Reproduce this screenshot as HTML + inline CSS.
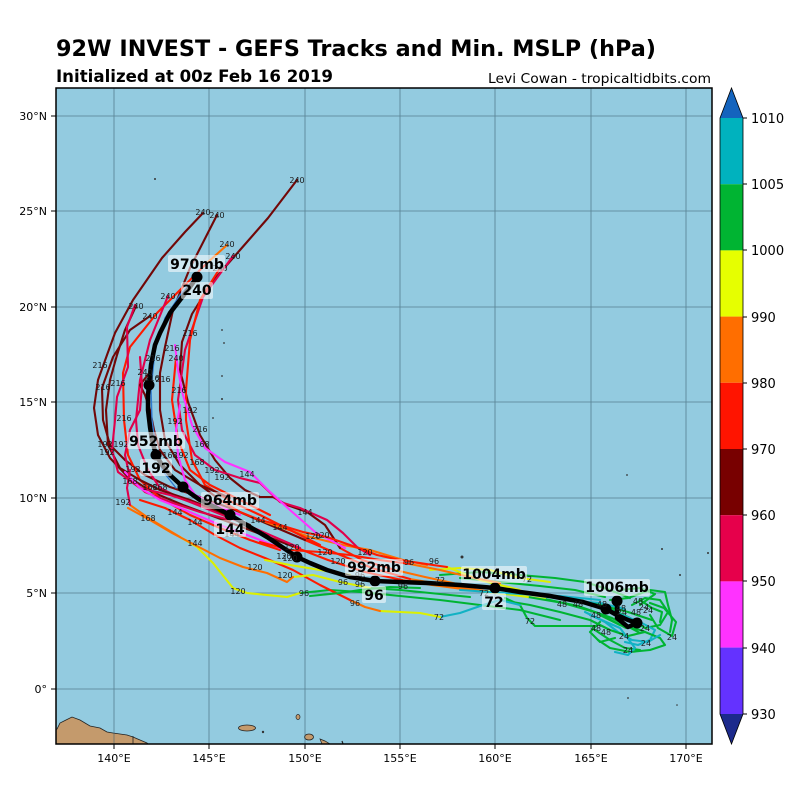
<!DOCTYPE html>
<html>
<head>
<meta charset="utf-8">
<style>
html,body{margin:0;padding:0;background:#fff;}
svg{display:block;}
text{font-family:"DejaVu Sans","Liberation Sans",sans-serif;}
.t{fill:none;stroke-width:2.1;stroke-linejoin:round;stroke-linecap:round;}
.G{stroke:#00b432;} .C{stroke:#12b2c4;} .Y{stroke:#dcf000;} .O{stroke:#ff6e00;}
.R{stroke:#ff1a00;} .D{stroke:#720808;} .K{stroke:#e0004b;} .M{stroke:#ff32ff;} .B{stroke:#2f7ad0;}
.h{font-size:8px;fill:#1a1a1a;}
.lb{fill:rgba(255,255,255,0.55);}
.lt{font-size:14px;font-weight:bold;fill:#000;text-anchor:middle;}
.ax{font-size:11px;fill:#000;}
.cb{font-size:13px;fill:#000;}
</style>
</head>
<body>
<svg width="800" height="800" viewBox="0 0 800 800" xmlns="http://www.w3.org/2000/svg">
<defs>
<clipPath id="mc"><rect x="56" y="88" width="656" height="656"/></clipPath>
</defs>

<text x="56" y="56" font-size="22" font-weight="bold" textLength="600" lengthAdjust="spacingAndGlyphs">92W INVEST - GEFS Tracks and Min. MSLP (hPa)</text>
<text x="56" y="82" font-size="17" font-weight="bold" textLength="277" lengthAdjust="spacingAndGlyphs">Initialized at 00z Feb 16 2019</text>
<text x="488" y="83" font-size="13.5" textLength="223" lengthAdjust="spacingAndGlyphs">Levi Cowan - tropicaltidbits.com</text>

<rect x="56" y="88" width="656" height="656" fill="#93cbe0"/>
<g clip-path="url(#mc)">
  <polygon points="54,744 54,730 57,729 60,723 66,720 72,717 80,720 90,726 100,728 107,732 113,733 120,734 127,735 133,737 140,740 147,743 150,746" fill="#c49a6c" stroke="#222" stroke-width="0.8"/>
  <line x1="133" y1="736" x2="133" y2="744" stroke="#222" stroke-width="0.8"/>
  <ellipse cx="247" cy="728" rx="8.5" ry="3" fill="#c49a6c" stroke="#222" stroke-width="0.8"/>
  <circle cx="263" cy="732" r="1.2" fill="#333"/>
  <ellipse cx="298" cy="717" rx="2" ry="2.5" fill="#c49a6c" stroke="#222" stroke-width="0.7"/>
  <ellipse cx="309" cy="737" rx="4.5" ry="3" fill="#c49a6c" stroke="#222" stroke-width="0.8"/>
  <polygon points="320,739 325,741 330,744 322,744" fill="#c49a6c" stroke="#222" stroke-width="0.7"/>
  <line x1="342" y1="741" x2="343" y2="744" stroke="#222" stroke-width="1.2"/>
  <g fill="#333">
    <circle cx="155" cy="179" r="1"/><circle cx="222" cy="330" r="0.9"/><circle cx="224" cy="343" r="0.9"/>
    <circle cx="222" cy="376" r="0.9"/><circle cx="222" cy="399" r="1"/><circle cx="213" cy="418" r="0.9"/>
    <circle cx="627" cy="475" r="0.9"/><circle cx="462" cy="557" r="1.5"/><circle cx="680" cy="575" r="1"/>
    <circle cx="662" cy="549" r="1"/><circle cx="708" cy="553" r="1"/><circle cx="628" cy="698" r="0.9"/><circle cx="677" cy="705" r="0.8"/>
  </g>
  <g stroke="#3d5f70" stroke-width="0.8" opacity="0.7">
    <line x1="114" y1="88" x2="114" y2="744"/><line x1="209" y1="88" x2="209" y2="744"/>
    <line x1="305" y1="88" x2="305" y2="744"/><line x1="400" y1="88" x2="400" y2="744"/>
    <line x1="495" y1="88" x2="495" y2="744"/><line x1="591" y1="88" x2="591" y2="744"/>
    <line x1="686" y1="88" x2="686" y2="744"/>
    <line x1="56" y1="116" x2="712" y2="116"/><line x1="56" y1="211" x2="712" y2="211"/>
    <line x1="56" y1="307" x2="712" y2="307"/><line x1="56" y1="402" x2="712" y2="402"/>
    <line x1="56" y1="498" x2="712" y2="498"/><line x1="56" y1="593" x2="712" y2="593"/>
    <line x1="56" y1="689" x2="712" y2="689"/>
  </g>

  <polyline class="t G" points="560,598 590,603 612,610 630,618 645,628 660,625 668,612 660,600 645,598 632,605"/>
  <polyline class="t C" points="570,600 600,606 622,615 640,622 655,630 650,640 638,645 625,642"/>
  <polyline class="t G" points="600,615 620,625 640,630 660,638 665,645 650,650 630,652 610,648 598,640"/>
  <polyline class="t G" points="610,600 628,598 650,590 665,592 668,605 672,620 670,632"/>
  <polyline class="t C" points="585,612 605,622 618,632 632,640 648,642 660,635"/>
  <polyline class="t G" points="595,630 610,640 625,648 640,650"/>
  <polyline class="t G" points="640,600 652,608 662,612 660,622"/>
  <polyline class="t G" points="620,590 640,588 655,594 640,605"/>
  <polyline class="t C" points="545,596 575,601 600,603 625,609"/>
  <polyline class="t G" points="600,622 590,632 600,642 615,638"/>
  <polyline class="t G" points="500,600 530,605 560,612 590,620 610,630 628,636 645,632"/>
  <polyline class="t G" points="597,626 560,626 535,626 527,618 520,605 505,598"/>
  <polyline class="t C" points="590,615 620,628 635,648 628,655 615,652"/>
  <polyline class="t G" points="650,615 658,628 672,636 676,622 664,608 650,603"/>
  <polyline class="t G" points="440,575 480,572 520,575 555,578 585,582 610,590 630,598"/>
  <polyline class="t Y" points="430,570 460,568 490,570 520,578 550,582"/>
  <polyline class="t G" points="460,578 500,582 540,586 575,590 605,597"/>

  <polyline class="t G" points="652,620 628,612 600,605 568,599 538,595"/>
  <polyline class="t Y" points="538,595 500,590 462,585"/>
  <polyline class="t O" points="462,585 425,577 395,570"/>
  <polyline class="t R" points="395,570 362,560 340,548"/>
  <polyline class="t D" points="340,548 325,525 307,512 287,505 273,497 260,497 245,490 230,478 215,460 200,435 188,402 180,370 182,342 192,314 212,282 240,250 268,218 297,180"/>
  <polyline class="t G" points="640,633 612,618 578,606 545,599"/>
  <polyline class="t Y" points="545,599 505,594 470,590"/>
  <polyline class="t O" points="470,590 432,585 402,580"/>
  <polyline class="t R" points="402,580 365,572 328,560 292,546"/>
  <polyline class="t D" points="292,546 255,532 218,518 183,505 152,492 127,476 110,458 98,435 94,408 98,380 107,355 115,333 133,300 162,258 185,232 203,213"/>
  <polyline class="t G" points="626,628 598,613 563,603 528,597"/>
  <polyline class="t Y" points="528,597 485,591"/>
  <polyline class="t O" points="485,591 445,585 410,579"/>
  <polyline class="t R" points="410,579 372,568 338,554 305,540"/>
  <polyline class="t D" points="305,540 270,525 235,510 200,497 170,487 145,475 125,460 110,445 103,420 102,388 113,357 130,330 150,316"/>
  <polyline class="t O" points="427,565 403,560 370,550 343,545 310,537 280,527 260,520"/>
  <polyline class="t R" points="260,520 240,512 220,500"/>
  <polyline class="t D" points="220,500 200,485 180,465 165,440 160,410 160,373 165,347 173,310 190,268 217,215"/>
  <polyline class="t R" points="280,550 250,540 220,528 190,515 160,498 140,480 128,455 124,420 123,373 130,347 157,313 180,290 207,263"/>
  <polyline class="t O" points="207,263 227,245"/>
  <polyline class="t K" points="370,555 357,547 343,533 327,520 300,508 280,502 260,483 240,478 215,470 195,455 182,430 178,400 185,350 203,297 233,256"/>
  <polyline class="t R" points="320,545 290,530 260,515 232,502 205,485 192,460 186,420 186,390 190,340 200,300 220,268"/>
  <polyline class="t K" points="300,548 270,535 240,522 210,510 180,498 160,488 148,470 138,445 136,420 140,380 150,340 168,296"/>
  <polyline class="t D" points="250,525 220,512 190,500 160,490 140,480 120,468 108,445 106,410 110,380 117,355 125,330 136,306"/>
  <polyline class="t D" points="230,498 200,485 175,470 160,450 154,430 150,410 145,395 140,385 150,372"/>
  <polyline class="t R" points="270,515 240,500 210,485 190,470 178,440 172,400 176,358"/>
  <polyline class="t K" points="200,505 170,495 140,488 118,472 112,450 115,420 117,397 128,367 127,327 135,305"/>
  <polyline class="t K" points="230,520 200,512 170,502 145,492 130,478 125,455 130,430 140,410 142,385 140,357"/>
  <polyline class="t M" points="345,548 315,532 290,510 268,490 250,472 225,462 205,448 192,425 183,395 178,370 175,345"/>
  <polyline class="t M" points="290,552 255,538 220,525 185,510 160,500 140,488 125,472"/>
  <polyline class="t M" points="240,515 215,505 195,495 185,480 178,455 176,430 180,405"/>
  <polyline class="t B" points="176,488 162,470 156,450 152,420 151,390 155,350 165,318 180,295 195,278" style="stroke-width:1.4"/>
  <polyline class="t G" points="560,620 520,610 480,605 440,600 400,596 360,592 330,590 300,593"/>
  <polyline class="t Y" points="300,593 287,597 247,593 233,588 213,563 197,547 180,537"/>
  <polyline class="t O" points="180,537 160,525 147,517 130,505"/>
  <polyline class="t K" points="130,505 127,488 130,470"/>
  <polyline class="t C" points="520,605 500,600 483,605 460,613 440,617"/>
  <polyline class="t Y" points="440,617 420,613 400,612 380,611"/>
  <polyline class="t O" points="380,611 365,607 350,600"/>
  <polyline class="t R" points="350,600 320,585 293,570 265,558 240,548 215,535 190,520 165,508 140,500"/>
  <polyline class="t G" points="470,597 430,593 400,590 370,588"/>
  <polyline class="t Y" points="370,588 340,582 313,575 293,577"/>
  <polyline class="t O" points="293,577 287,582 267,573 243,567 220,558 195,545 172,533 150,520 128,508"/>
  <polyline class="t Y" points="520,590 480,580 447,567"/>
  <polyline class="t R" points="447,567 433,565 400,560 377,555 350,545 327,537 303,532 280,525 260,520"/>
  <polyline class="t O" points="500,583 470,577 440,570 410,564"/>
  <polyline class="t R" points="410,564 380,560 350,555 320,552 290,550 260,542"/>
  <polyline class="t Y" points="350,575 320,570 290,565 265,560"/>
  <polyline class="t G" points="420,588 390,587 360,590 340,593 310,596"/>
  <polyline class="t C" points="600,600 560,596 520,594 490,592 460,590"/>

  <polyline points="617,601 617,618 628,627 637,623 628,620 615,614 606,609 583,602 550,596 520,592 495,588 460,585 427,583 400,582 375,581 350,577 327,570 310,563 297,557 282,547 267,537 250,527 230,515 215,507 200,500 190,493 183,487 170,475 162,465 156,455 152,440 150,427 148,410 148,395 149,385 151,365 155,345 160,333 170,313 180,300 190,287 197,277" fill="none" stroke="#000" stroke-width="4.5" stroke-linejoin="round" stroke-linecap="round"/>
  <g fill="#000">
    <circle cx="617" cy="601" r="5.5"/><circle cx="637" cy="623" r="5.5"/><circle cx="606" cy="609" r="5.5"/>
    <circle cx="495" cy="588" r="5.5"/><circle cx="375" cy="581" r="5.5"/><circle cx="297" cy="557" r="5.5"/>
    <circle cx="230" cy="515" r="5.5"/><circle cx="183" cy="487" r="5.5"/><circle cx="156" cy="455" r="5.5"/>
    <circle cx="149" cy="385" r="5.5"/><circle cx="197" cy="277" r="5.5"/>
  </g>

  <g class="h" text-anchor="middle">
    <text x="297" y="183">240</text><text x="203" y="215">240</text><text x="217" y="218">240</text>
    <text x="227" y="247">240</text><text x="233" y="259">240</text><text x="220" y="271">240</text>
    <text x="168" y="299">240</text><text x="136" y="309">240</text><text x="150" y="319">240</text>
    <text x="145" y="375">240</text><text x="176" y="361">240</text>
    <text x="100" y="368">216</text><text x="103" y="390">216</text><text x="118" y="386">216</text>
    <text x="124" y="421">216</text><text x="190" y="336">216</text><text x="153" y="361">216</text>
    <text x="152" y="381">216</text><text x="163" y="382">216</text><text x="179" y="393">216</text>
    <text x="200" y="432">216</text><text x="172" y="351">216</text>
    <text x="105" y="447">192</text><text x="107" y="455">192</text><text x="121" y="447">192</text>
    <text x="133" y="472">192</text><text x="123" y="505">192</text><text x="190" y="413">192</text>
    <text x="181" y="458">192</text><text x="212" y="473">192</text><text x="222" y="480">192</text>
    <text x="175" y="424">192</text>
    <text x="130" y="484">168</text><text x="150" y="490">168</text><text x="160" y="490">168</text>
    <text x="202" y="447">168</text><text x="197" y="465">168</text><text x="148" y="521">168</text>
    <text x="170" y="458">168</text>
    <text x="247" y="477">144</text><text x="305" y="515">144</text><text x="175" y="515">144</text>
    <text x="195" y="525">144</text><text x="195" y="546">144</text><text x="280" y="530">144</text>
    <text x="258" y="523">144</text><text x="232" y="537">144</text>
    <text x="238" y="594">120</text><text x="322" y="538">120</text><text x="313" y="539">120</text>
    <text x="325" y="555">120</text><text x="292" y="550">120</text><text x="285" y="578">120</text>
    <text x="290" y="561">120</text><text x="338" y="564">120</text><text x="255" y="570">120</text>
    <text x="365" y="555">120</text><text x="284" y="559">120</text>
    <text x="304" y="596">96</text><text x="355" y="606">96</text><text x="343" y="585">96</text>
    <text x="360" y="587">96</text><text x="409" y="565">96</text><text x="434" y="564">96</text>
    <text x="403" y="589">96</text><text x="360" y="578">96</text>
    <text x="439" y="620">72</text><text x="440" y="583">72</text><text x="530" y="624">72</text>
    <text x="484" y="596">72</text><text x="527" y="582">72</text>
    <text x="562" y="607">48</text><text x="578" y="607">48</text><text x="602" y="607">48</text>
    <text x="596" y="618">48</text><text x="596" y="631">48</text><text x="606" y="635">48</text>
    <text x="638" y="604">48</text><text x="636" y="615">48</text><text x="621" y="611">48</text>
    <text x="624" y="639">24</text><text x="645" y="631">24</text><text x="644" y="610">24</text>
    <text x="648" y="613">24</text><text x="672" y="640">24</text><text x="646" y="646">24</text>
    <text x="628" y="653">24</text><text x="622" y="615">24</text>
  </g>

  <rect class="lb" x="168" y="255" width="57" height="17" rx="2"/>
  <text class="lt" x="197" y="269">970mb</text>
  <rect class="lb" x="181" y="282" width="32" height="17" rx="2"/>
  <text class="lt" x="197" y="295">240</text>
  <rect class="lb" x="127" y="432" width="58" height="17" rx="2"/>
  <text class="lt" x="156" y="446">952mb</text>
  <rect class="lb" x="140" y="459" width="32" height="17" rx="2"/>
  <text class="lt" x="156" y="473">192</text>
  <rect class="lb" x="201" y="492" width="58" height="17" rx="2"/>
  <text class="lt" x="230" y="505">964mb</text>
  <rect class="lb" x="214" y="520" width="32" height="17" rx="2"/>
  <text class="lt" x="230" y="534">144</text>
  <rect class="lb" x="345" y="559" width="58" height="17" rx="2"/>
  <text class="lt" x="374" y="572">992mb</text>
  <rect class="lb" x="362" y="586" width="24" height="17" rx="2"/>
  <text class="lt" x="374" y="600">96</text>
  <rect class="lb" x="461" y="566" width="66" height="17" rx="2"/>
  <text class="lt" x="494" y="579">1004mb</text>
  <rect class="lb" x="482" y="593" width="24" height="17" rx="2"/>
  <text class="lt" x="494" y="607">72</text>
  <rect class="lb" x="584" y="579" width="66" height="17" rx="2"/>
  <text class="lt" x="617" y="592">1006mb</text>
</g>
<rect x="56" y="88" width="656" height="656" fill="none" stroke="#000" stroke-width="1.5"/>

<g stroke="#000" stroke-width="1">
  <line x1="51" y1="116" x2="56" y2="116"/><line x1="51" y1="211" x2="56" y2="211"/>
  <line x1="51" y1="307" x2="56" y2="307"/><line x1="51" y1="402" x2="56" y2="402"/>
  <line x1="51" y1="498" x2="56" y2="498"/><line x1="51" y1="593" x2="56" y2="593"/>
  <line x1="51" y1="689" x2="56" y2="689"/>
  <line x1="114" y1="744" x2="114" y2="749"/><line x1="209" y1="744" x2="209" y2="749"/>
  <line x1="305" y1="744" x2="305" y2="749"/><line x1="400" y1="744" x2="400" y2="749"/>
  <line x1="495" y1="744" x2="495" y2="749"/><line x1="591" y1="744" x2="591" y2="749"/>
  <line x1="686" y1="744" x2="686" y2="749"/>
</g>
<g class="ax" text-anchor="end">
  <text x="47" y="120">30°N</text><text x="47" y="215">25°N</text><text x="47" y="311">20°N</text>
  <text x="47" y="406">15°N</text><text x="47" y="502">10°N</text><text x="47" y="597">5°N</text>
  <text x="47" y="693">0°</text>
</g>
<g class="ax" text-anchor="middle">
  <text x="114" y="762">140°E</text><text x="209" y="762">145°E</text><text x="305" y="762">150°E</text>
  <text x="400" y="762">155°E</text><text x="495" y="762">160°E</text><text x="591" y="762">165°E</text>
  <text x="686" y="762">170°E</text>
</g>

<polygon points="720,118 743,118 731.5,88" fill="#1464be"/>
<rect x="720" y="118" width="23" height="66.2" fill="#00b2be"/>
<rect x="720" y="184.2" width="23" height="66.2" fill="#00b432"/>
<rect x="720" y="250.4" width="23" height="66.2" fill="#e6ff00"/>
<rect x="720" y="316.6" width="23" height="66.2" fill="#ff6e00"/>
<rect x="720" y="382.8" width="23" height="66.2" fill="#ff1400"/>
<rect x="720" y="449" width="23" height="66.2" fill="#780000"/>
<rect x="720" y="515.2" width="23" height="66.2" fill="#e6004b"/>
<rect x="720" y="581.4" width="23" height="66.2" fill="#ff32ff"/>
<rect x="720" y="647.6" width="23" height="66.4" fill="#6432ff"/>
<polygon points="720,714 743,714 731.5,744" fill="#1c2a8c"/>
<polygon points="720,118 731.5,88 743,118 743,714 731.5,744 720,714" fill="none" stroke="#000" stroke-width="0.8"/>
<g stroke="#000" stroke-width="1">
  <line x1="743" y1="118" x2="747" y2="118"/><line x1="743" y1="184" x2="747" y2="184"/>
  <line x1="743" y1="250" x2="747" y2="250"/><line x1="743" y1="317" x2="747" y2="317"/>
  <line x1="743" y1="383" x2="747" y2="383"/><line x1="743" y1="449" x2="747" y2="449"/>
  <line x1="743" y1="515" x2="747" y2="515"/><line x1="743" y1="581" x2="747" y2="581"/>
  <line x1="743" y1="648" x2="747" y2="648"/><line x1="743" y1="714" x2="747" y2="714"/>
</g>
<g class="cb">
  <text x="751" y="123">1010</text><text x="751" y="189">1005</text><text x="751" y="255">1000</text>
  <text x="751" y="322">990</text><text x="751" y="388">980</text><text x="751" y="454">970</text>
  <text x="751" y="520">960</text><text x="751" y="586">950</text><text x="751" y="653">940</text>
  <text x="751" y="719">930</text>
</g>
</svg>
</body>
</html>
